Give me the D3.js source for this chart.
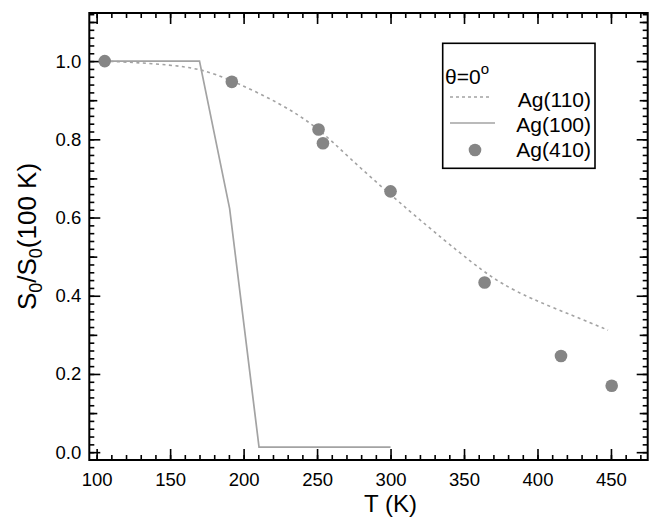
<!DOCTYPE html>
<html>
<head>
<meta charset="utf-8">
<script src="https://cdnjs.cloudflare.com/ajax/libs/d3/7.8.5/d3.min.js"></script>
<style>
  body { margin: 0; background: #fff; }
  text { font-family: "Liberation Sans", Arial, sans-serif; fill: #000; }
</style>
</head>
<body>
<div id="chart"></div>
<script>
// data
var dotTemps = [105.5, 192, 251, 254, 300, 364, 416, 450.5];
var ag410 = [1.0, 0.947, 0.825, 0.79, 0.667, 0.434, 0.246, 0.17];

var fitTemps = [105, 125, 150, 170, 192, 225, 250, 272, 300, 325, 347, 362, 375, 395, 425, 448];
var ag110 = [1.0, 0.997, 0.99, 0.981, 0.951, 0.892, 0.832, 0.752, 0.658, 0.578, 0.51, 0.466, 0.432, 0.393, 0.348, 0.312];

var stepTemps = [105, 170, 190.5, 210.5, 300];
var ag100 = [1.0, 1.0, 0.623, 0.013, 0.013];

var xMajor = [100, 150, 200, 250, 300, 350, 400, 450];
var yMajor = [0.0, 0.2, 0.4, 0.6, 0.8, 1.0];

var svgWidth = 651;
var svgHeight = 518;
var margin = { top: 13, right: 3.3, bottom: 58, left: 89.3 };
var width = svgWidth - margin.left - margin.right;
var height = svgHeight - margin.top - margin.bottom;

var svg = d3.select("#chart")
  .append("svg")
  .attr("width", svgWidth)
  .attr("height", svgHeight);

var chartGroup = svg.append("g")
  .attr("transform", `translate(${margin.left}, ${margin.top})`);

var x = d3.scaleLinear().domain([95, 475]).range([0, width]);
var y = d3.scaleLinear().domain([-0.02, 1.123]).range([height, 0]);

// tick sets
var xMinor = d3.range(100, 471, 10);
var yMinor = d3.range(0, 57).map(i => +(i * 0.02).toFixed(2));
var yMid = [0.1, 0.3, 0.5, 0.7, 0.9, 1.1];

function styleAxis(g) {
  g.select(".domain").remove();
  g.selectAll("line").attr("stroke", "#000").attr("stroke-width", 1.6);
  g.selectAll("text").style("font-size", "18.5px");
}

// bottom + top
[[d3.axisBottom, height], [d3.axisTop, 0]].forEach(function(a) {
  var g1 = chartGroup.append("g").attr("transform", `translate(0, ${a[1]})`)
    .call(a[0](x).tickValues(xMinor).tickSize(-5).tickFormat(""));
  styleAxis(g1);
  var g2 = chartGroup.append("g").attr("transform", `translate(0, ${a[1]})`)
    .call(a[0](x).tickValues(xMajor).tickSize(-11).tickPadding(13)
      .tickFormat(a[1] === height ? d3.format("d") : ""));
  styleAxis(g2);
});

// left + right
[[d3.axisLeft, 0], [d3.axisRight, width]].forEach(function(a) {
  var g1 = chartGroup.append("g").attr("transform", `translate(${a[1]}, 0)`)
    .call(a[0](y).tickValues(yMinor).tickSize(-5).tickFormat(""));
  styleAxis(g1);
  var g2 = chartGroup.append("g").attr("transform", `translate(${a[1]}, 0)`)
    .call(a[0](y).tickValues(yMid).tickSize(-8).tickFormat(""));
  styleAxis(g2);
  var g3 = chartGroup.append("g").attr("transform", `translate(${a[1]}, 0)`)
    .call(a[0](y).tickValues(yMajor).tickSize(-11).tickPadding(8)
      .tickFormat(a[1] === 0 ? d3.format(".1f") : ""));
  styleAxis(g3);
});

// frame
chartGroup.append("rect")
  .attr("width", width)
  .attr("height", height)
  .attr("fill", "none")
  .attr("stroke", "#000")
  .attr("stroke-width", 2);

// Ag(100) solid line
var stepLine = d3.line()
  .x((d, i) => x(stepTemps[i]))
  .y(d => y(d));
chartGroup.append("path")
  .datum(ag100)
  .attr("d", stepLine)
  .attr("fill", "none")
  .attr("stroke", "#a3a3a3")
  .attr("stroke-width", 1.7);

// Ag(110) dashed curve
var fitLine = d3.line()
  .x((d, i) => x(fitTemps[i]))
  .y(d => y(d))
  .curve(d3.curveBasis);
chartGroup.append("path")
  .datum(ag110)
  .attr("d", fitLine)
  .attr("fill", "none")
  .attr("stroke", "#a3a3a3")
  .attr("stroke-width", 1.6)
  .attr("stroke-dasharray", "3,3.5");

// Ag(410) dots
chartGroup.selectAll("circle.pt")
  .data(ag410)
  .enter()
  .append("circle")
  .classed("pt", true)
  .attr("cx", (d, i) => x(dotTemps[i]))
  .attr("cy", d => y(d))
  .attr("r", 6.3)
  .attr("fill", "#858585");

// axis titles
svg.append("text")
  .attr("x", margin.left + x(300))
  .attr("y", 512)
  .attr("text-anchor", "middle")
  .style("font-size", "24px")
  .text("T (K)");

var yLabel = svg.append("text")
  .attr("transform", `translate(36, ${margin.top + height / 2}) rotate(-90)`)
  .attr("text-anchor", "middle")
  .style("font-size", "26px");
yLabel.append("tspan").text("S");
yLabel.append("tspan").attr("dy", 6).style("font-size", "18px").text("0");
yLabel.append("tspan").attr("dy", -6).text("/S");
yLabel.append("tspan").attr("dy", 6).style("font-size", "18px").text("0");
yLabel.append("tspan").attr("dy", -6).text("(100 K)");

// legend
var legend = svg.append("g");
legend.append("rect")
  .attr("x", 442.7)
  .attr("y", 43.3)
  .attr("width", 152.3)
  .attr("height", 125)
  .attr("fill", "#fff")
  .attr("stroke", "#000")
  .attr("stroke-width", 1.6);

var theta = legend.append("text")
  .attr("x", 445)
  .attr("y", 84)
  .style("font-size", "21px");
theta.append("tspan").text("\u03B8=0");
theta.append("tspan").attr("dy", -10).style("font-size", "15px").text("o");

var legendNames = ["Ag(110)", "Ag(100)", "Ag(410)"];
legendNames.forEach(function(name, i) {
  var yy = 106.5 + i * 25.3;
  legend.append("text")
    .attr("x", 591)
    .attr("y", yy)
    .attr("text-anchor", "end")
    .style("font-size", "21px")
    .text(name);
});
legend.append("line")
  .attr("x1", 450).attr("x2", 492)
  .attr("y1", 97).attr("y2", 97)
  .attr("stroke", "#a3a3a3").attr("stroke-width", 1.4)
  .attr("stroke-dasharray", "3,3");
legend.append("line")
  .attr("x1", 450).attr("x2", 495)
  .attr("y1", 123).attr("y2", 123)
  .attr("stroke", "#a3a3a3").attr("stroke-width", 1.7);
legend.append("circle")
  .attr("cx", 475).attr("cy", 150)
  .attr("r", 6.3)
  .attr("fill", "#858585");
</script>
</body>
</html>
